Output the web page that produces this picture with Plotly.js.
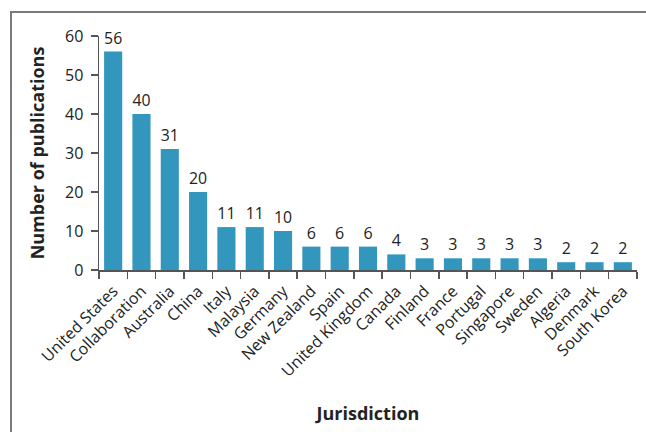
<!DOCTYPE html>
<html>
<head>
<meta charset="utf-8">
<script src="https://cdn.plot.ly/plotly-3.0.1.min.js"></script>
<style>
  html, body { margin: 0; padding: 0; background: #fff; }
  #wrap { position: relative; width: 646px; height: 432px; overflow: hidden; }
  #frame { position: absolute; left: 10px; top: 11px; width: 700px; height: 500px;
           border-left: 2px solid #7a7a7a; border-top: 2px solid #7a7a7a; box-sizing: border-box; }
  #chart { position: absolute; left: 0; top: 0; width: 646px; height: 432px; }
</style>
</head>
<body>
<div id="wrap">
  <div id="frame"></div>
  <div id="chart"></div>
</div>
<script>
// Publications per jurisdiction
const jurisdictions = ["United States", "Collaboration", "Australia", "China", "Italy", "Malaysia",
  "Germany", "New Zealand", "Spain", "United Kingdom", "Canada", "Finland", "France", "Portugal",
  "Singapore", "Sweden", "Algeria", "Denmark", "South Korea"];
const publications = [56, 40, 31, 20, 11, 11, 10, 6, 6, 6, 4, 3, 3, 3, 3, 3, 2, 2, 2];
const yTicks = [0, 10, 20, 30, 40, 50, 60];

const font = "'Open Sans', 'DejaVu Sans', sans-serif";
const ink = "#222";

const trace = {
  type: "bar",
  x: jurisdictions,
  y: publications,
  text: publications.map(String),
  textposition: "outside",
  cliponaxis: false,
  textfont: { family: font, size: 16, color: ink },
  marker: { color: "#3396bd" },
  hoverinfo: "x+y"
};

const layout = {
  width: 646,
  height: 432,
  margin: { l: 99, r: 9, t: 36, b: 162 },
  paper_bgcolor: "rgba(0,0,0,0)",
  plot_bgcolor: "rgba(0,0,0,0)",
  bargap: 0.36,
  showlegend: false,
  font: { family: font, color: ink, size: 16 },
  xaxis: {
    type: "category",
    tickangle: -45,
    tickson: "boundaries",
    ticks: "outside",
    ticklen: 7,
    tickwidth: 1.5,
    tickcolor: "#555",
    ticklabelstandoff: 4,
    showline: true,
    linecolor: "#555",
    linewidth: 1.5,
    showgrid: false,
    tickfont: { family: font, size: 16, color: ink },
    title: { text: "Jurisdiction", font: { family: font, size: 18, color: ink, weight: "bold" }, standoff: 27 }
  },
  yaxis: {
    range: [0, 60],
    tickvals: yTicks,
    ticks: "outside",
    ticklen: 7,
    tickwidth: 1.5,
    tickcolor: "#555",
    ticklabelstandoff: 4,
    showline: true,
    linecolor: "#555",
    linewidth: 1.5,
    showgrid: false,
    zeroline: false,
    tickfont: { family: font, size: 16, color: ink },
    title: { text: "Number of publications", font: { family: font, size: 18, color: ink, weight: "bold" }, standoff: 15 }
  }
};

Plotly.newPlot("chart", [trace], layout, { displayModeBar: false, staticPlot: true });
</script>
</body>
</html>
